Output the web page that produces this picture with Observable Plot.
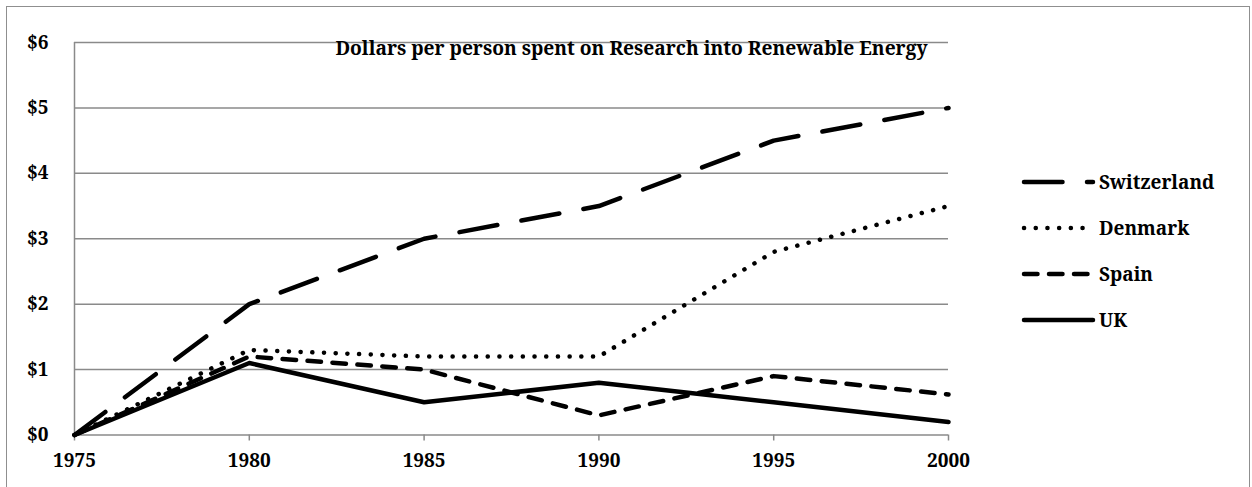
<!DOCTYPE html>
<html>
<head>
<meta charset="utf-8">
<script src="https://cdn.jsdelivr.net/npm/d3@7"></script>
<script src="https://cdn.jsdelivr.net/npm/@observablehq/plot@0.6"></script>
<style>
  html, body { margin: 0; padding: 0; background: #fff; }
  #wrap { position: relative; width: 1252px; height: 487px; overflow: hidden; font-family: "Noto Serif", serif; font-weight: bold; }
  #border { position: absolute; left: 6px; top: 6px; width: 1244px; height: 500px; border: 1.5px solid #8f8f8f; box-sizing: border-box; }
  #chart { position: absolute; left: 0; top: 0; }
  #legend { position: absolute; left: 1020px; top: 159px; }
  .item { display: flex; align-items: center; height: 46px; font-size: 19px; color: #000; }
  .item svg { margin-right: 3px; }
</style>
</head>
<body>
<div id="wrap">
  <div id="border"></div>
  <div id="chart"></div>
  <div id="legend"></div>
</div>
<script>
const years = [1975, 1980, 1985, 1990, 1995, 2000];
const switzerland = [0, 2.0, 3.0, 3.5, 4.5, 5.0];
const denmark = [0, 1.3, 1.2, 1.2, 2.8, 3.5];
const spain = [0, 1.2, 1.0, 0.3, 0.9, 0.62];
const uk = [0, 1.1, 0.5, 0.8, 0.5, 0.2];
const seriesNames = ["Switzerland", "Denmark", "Spain", "UK"];
const yTicks = [0, 1, 2, 3, 4, 5, 6];
const title = "Dollars per person spent on Research into Renewable Energy";

const seriesValues = [switzerland, denmark, spain, uk];
const dashes = ["38.5,24.5", "0.1,11.6", "13.5,11.5", null];
const W = 4.5;
const FONT = "'Noto Serif', serif";

const rows = seriesNames.flatMap((name, i) => years.map((y, j) => ({series: name, year: y, value: seriesValues[i][j]})));

const lineMarks = seriesNames.map((name, i) =>
  Plot.line(rows.filter(d => d.series === name), {
    x: "year", y: "value", stroke: "#000", strokeWidth: W,
    strokeDasharray: dashes[i] || undefined,
    strokeLinecap: "round", strokeLinejoin: "round"
  })
);

const plot = Plot.plot({
  width: 1252,
  height: 487,
  marginLeft: 74,
  marginRight: 304,
  marginTop: 42,
  marginBottom: 52.5,
  style: {fontFamily: FONT, fontWeight: "bold", fontSize: "19px", color: "#000", background: "transparent"},
  x: {domain: [years[0], years[years.length - 1]]},
  y: {domain: [0, 6]},
  marks: [
    Plot.gridY(yTicks, {stroke: "#8a8a8a", strokeOpacity: 1, strokeWidth: 1.5}),
    Plot.ruleX([years[0]], {stroke: "#8a8a8a", strokeWidth: 1.5}),
    Plot.axisX(years, {tickSize: 6, tickPadding: 12, stroke: "#8a8a8a", strokeWidth: 1.5, fill: "#000", fontSize: 19, fontWeight: "bold", tickFormat: d => String(d), label: null}),
    Plot.axisY(yTicks, {tickSize: 0, tickPadding: 26, fill: "#000", fontSize: 19, fontWeight: "bold", tickFormat: d => "$" + d, label: null}),
    Plot.text([title], {frameAnchor: "top-right", textAnchor: "end", lineAnchor: "middle", dx: -21, dy: 6, text: d => d, fontSize: 19.2, fontWeight: "bold", fill: "#000"}),
    ...lineMarks
  ]
});
document.getElementById("chart").appendChild(plot);

// legend
const legend = d3.select("#legend");
seriesNames.forEach((name, i) => {
  const item = legend.append("div").attr("class", "item");
  const svg = item.append("svg").attr("width", 76).attr("height", 10);
  svg.append("line")
    .attr("x1", 4).attr("x2", 73).attr("y1", 5).attr("y2", 5)
    .attr("stroke", "#000").attr("stroke-width", W)
    .attr("stroke-linecap", "round")
    .attr("stroke-dasharray", dashes[i]);
  item.append("span").text(name);
});
</script>
</body>
</html>
